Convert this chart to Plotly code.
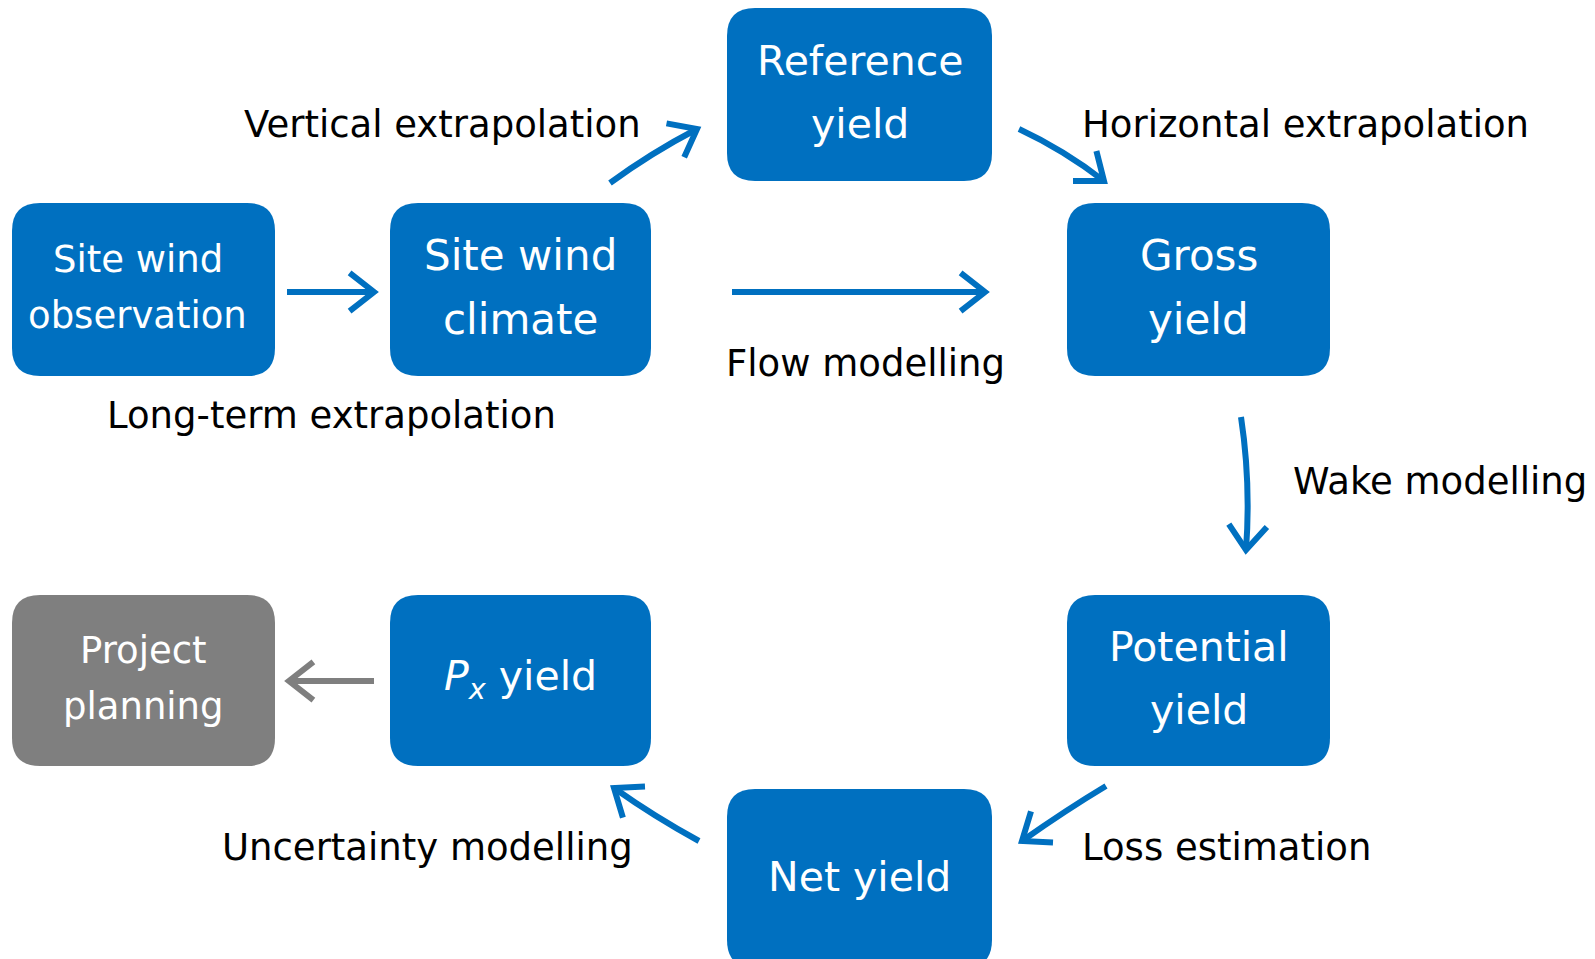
import math
import plotly.graph_objects as go

W, H = 1595, 959
BLUE = "#0070C0"
GRAY = "#7F7F7F"
FONT = "DejaVu Sans"

# ---- boxes ----
box_lines = [
    ["Site wind", "observation"],
    ["Site wind", "climate"],
    ["Reference", "yield"],
    ["Gross", "yield"],
    ["Potential", "yield"],
    ["Net yield"],
    ["<i>P</i><sub><i>x</i></sub> yield"],
    ["Project", "planning"],
]
box_x0 = [4, 382, 719, 1059, 1059, 719, 382, 4]
box_x1 = [267, 643, 984, 1322, 1322, 984, 643, 267]
box_y0 = [195, 195, 0, 195, 587, 781, 587, 587]
box_y1 = [368, 368, 173, 368, 758, 960, 758, 758]
box_text_dx = [-6, 0, 0, 0, 0, 0, 0, 0]
box_colors = [BLUE, BLUE, BLUE, BLUE, BLUE, BLUE, BLUE, GRAY]
box_font = [37, 42, 41, 42, 41, 41, 41, 37]

# ---- labels ----
label_text = ["Vertical extrapolation", "Horizontal extrapolation", "Long-term extrapolation",
              "Flow modelling", "Wake modelling", "Loss estimation", "Uncertainty modelling"]
label_x = [434, 1297, 323, 857, 1432, 1218, 419]
label_y = [116, 116, 407, 355, 473, 839, 839]

# ---- arrows (tail, control, tip) ----
arrow_tail = [(279, 284), (602, 175), (1011, 121), (724, 284), (1233, 409), (1098, 778), (691, 833), (366, 673)]
arrow_ctrl = [(322, 284), (643, 145), (1056, 142), (850, 284), (1243, 475), (1058, 802), (647, 809), (323, 673)]
arrow_tip = [(366, 284), (689, 121), (1096, 173), (977, 284), (1238, 542), (1014, 833), (606, 780), (281, 673)]
arrow_colors = [BLUE, BLUE, BLUE, BLUE, BLUE, BLUE, BLUE, GRAY]

fig = go.Figure()
shapes = []
annotations = []


def rrect(x0, y0, x1, y1, r=28):
    return (f"M {x0+r} {y0} L {x1-r} {y0} Q {x1} {y0} {x1} {y0+r} "
            f"L {x1} {y1-r} Q {x1} {y1} {x1-r} {y1} L {x0+r} {y1} "
            f"Q {x0} {y1} {x0} {y1-r} L {x0} {y0+r} Q {x0} {y0} {x0+r} {y0} Z")


for lines, x0, x1, y0, y1, dx, col, fs in zip(box_lines, box_x0, box_x1, box_y0, box_y1,
                                             box_text_dx, box_colors, box_font):
    shapes.append(dict(type="path", path=rrect(x0, y0, x1, y1), fillcolor=col,
                       line=dict(width=0), layer="below"))
    cx = (x0 + x1) / 2 + dx
    cy = (y0 + y1) / 2 - 2
    gap = fs * 1.52
    n = len(lines)
    for i, t in enumerate(lines):
        ty = cy + (i - (n - 1) / 2) * gap
        annotations.append(dict(x=cx, y=ty, text=t, showarrow=False, xanchor="center", yanchor="middle",
                                font=dict(family=FONT, size=fs, color="white")))

for t, x, y in zip(label_text, label_x, label_y):
    annotations.append(dict(x=x, y=y, text=t, showarrow=False, xanchor="center", yanchor="middle",
                            font=dict(family=FONT, size=37, color="black")))

HEAD_LEN = 31
HEAD_ANG = math.radians(38)
for (tx, ty), (cx, cy), (px, py), col in zip(arrow_tail, arrow_ctrl, arrow_tip, arrow_colors):
    shapes.append(dict(type="path", path=f"M {tx} {ty} Q {cx} {cy} {px} {py}",
                       line=dict(color=col, width=6)))
    ang = math.atan2(cy - py, cx - px)
    pts = []
    for s in (-1, 1):
        a = ang + s * HEAD_ANG
        pts.append((px + HEAD_LEN * math.cos(a), py + HEAD_LEN * math.sin(a)))
    shapes.append(dict(type="path",
                       path=f"M {pts[0][0]:.1f} {pts[0][1]:.1f} L {px} {py} L {pts[1][0]:.1f} {pts[1][1]:.1f}",
                       line=dict(color=col, width=6)))

fig.update_layout(
    width=W, height=H, margin=dict(l=0, r=0, t=0, b=0),
    paper_bgcolor="white", plot_bgcolor="white",
    xaxis=dict(range=[0, W], visible=False, fixedrange=True),
    yaxis=dict(range=[H, 0], visible=False, fixedrange=True),
    shapes=shapes, annotations=annotations, showlegend=False,
)
fig.write_html("out.html", config={"displayModeBar": False})
